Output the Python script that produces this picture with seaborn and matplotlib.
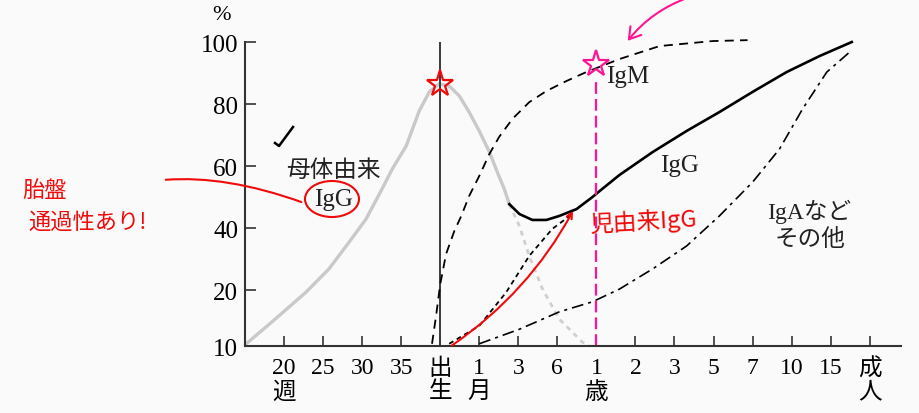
import numpy as np
import matplotlib
matplotlib.use("Agg")
import matplotlib.pyplot as plt
import seaborn as sns

# x axis: positions 0..15, labels (weeks of pregnancy, birth, months, years, adult)
tick_pos = list(range(16))
tick_labels = ["20\n週", "25", "30", "35", "出\n生", "1\n月", "3", "6",
               "1\n歳", "2", "3", "5", "7", "10", "15", "成\n人"]
y_ticks = [10, 20, 40, 60, 80, 100]

# maternal IgG (grey), solid part then the dotted tail
mat_x = [-0.97, -0.31, 0.56, 1.15, 1.67, 2.10, 2.51, 2.77, 3.13, 3.46, 3.72, 3.97,
         4.23, 4.49, 4.74, 5.0, 5.26, 5.46, 5.64, 5.77]
mat_y = [10.4, 14.3, 19.6, 26.8, 35.5, 42.9, 52.6, 59.0, 66.5, 77.7, 83.9, 86.5,
         85.8, 82.6, 77.4, 71.3, 64.5, 58.1, 52.6, 47.7]
mat_tail_x = [5.77, 6.03, 6.28, 6.62, 7.05, 7.64, 7.82]
mat_tail_y = [47.7, 40.6, 31.0, 20.3, 14.8, 10.7, 10]

# total IgG (black solid)
igg_x = [5.77, 6.03, 6.36, 6.72, 7.05, 7.49, 7.90, 8.08, 8.59, 9.44, 10.31, 11.15,
         12.0, 12.87, 13.72, 14.54]
igg_y = [47.7, 44.5, 42.6, 42.6, 43.9, 46.1, 50.0, 51.9, 57.1, 64.5, 71.3, 77.4,
         83.9, 90.3, 95.5, 100]

# child's own IgG (short dashes)
child_x = [4.23, 5.0, 5.69, 6.28, 6.87, 7.38]
child_y = [10.4, 13.6, 19.6, 31.0, 39.7, 44.5]

# IgM (dashed)
igm_x = [3.79, 3.90, 4.0, 4.15, 4.36, 4.54, 4.74, 5.0, 5.26, 5.51, 5.85, 6.28, 6.72,
         7.23, 7.74, 8.59, 9.62, 10.97, 11.87]
igm_y = [10.4, 15.7, 21.9, 31.6, 39.0, 43.9, 50.3, 56.8, 63.9, 69.4, 75.2, 80.6, 84.2,
         87.4, 90.3, 94.5, 98.7, 100.3, 100.6]

# IgA etc. (dash-dot)
iga_x = [5.0, 6.03, 7.05, 7.9, 8.59, 9.44, 10.31, 11.15, 12.0, 12.69, 13.28, 13.9, 14.49]
iga_y = [10.4, 13.0, 16.1, 17.9, 20.3, 26.8, 34.2, 43.9, 54.8, 65.5, 78.4, 90.3, 96.8]

plt.rcParams["lines.scale_dashes"] = False
serif = ["Liberation Serif", "Noto Sans CJK JP"]
hand = ["Noto Sans CJK JP", "DejaVu Sans"]
red = "#f00a0a"
pink = "#ff1493"

# bottom part of the y axis (10-20) is stretched in the original
k = 5.6 / 3.1
def fwd(y):
    y = np.asarray(y, dtype=float)
    return np.where(y < 20, 20 - (20 - y) * k, y)
def inv(v):
    v = np.asarray(v, dtype=float)
    return np.where(v < 20, 20 - (20 - v) / k, v)

fig = plt.figure(figsize=(9.2, 4.14), dpi=100, facecolor="#fafafa")
ax = fig.add_axes([0.2663, 0.1618, 0.713, 0.7343])
ax.set_facecolor("#fafafa")
ax.set_yscale("function", functions=(fwd, inv))

sns.lineplot(x=mat_x, y=mat_y, ax=ax, color="#c9c9c9", linewidth=2.4, clip_on=False)
sns.lineplot(x=mat_tail_x, y=mat_tail_y, ax=ax, color="#cfcfcf", linewidth=2.0, clip_on=False)
ax.lines[-1].set_dashes([3.5, 3.5])

ax.plot([4, 4], [10, 100], color="#3a3a3a", linewidth=1.4)

sns.lineplot(x=igm_x, y=igm_y, ax=ax, color="black", linewidth=1.3, clip_on=False)
ax.lines[-1].set_dashes([6.5, 4.5])
sns.lineplot(x=child_x, y=child_y, ax=ax, color="black", linewidth=1.3, clip_on=False)
ax.lines[-1].set_dashes([3.5, 2.8])
sns.lineplot(x=iga_x, y=iga_y, ax=ax, color="black", linewidth=1.2, clip_on=False)
ax.lines[-1].set_dashes([8.5, 3.6, 2.2, 3.6])
sns.lineplot(x=igg_x, y=igg_y, ax=ax, color="black", linewidth=1.9, clip_on=False)

# handwritten red / pink notes
ax.annotate("", xy=(7.4, 45.5), xytext=(4.3, 10.1),
            arrowprops=dict(arrowstyle="->", color=red, lw=1.5,
                            connectionstyle="arc3,rad=0.12", shrinkA=0, shrinkB=0),
            annotation_clip=False)
ax.plot([4], [86.5], marker="*", markersize=20, markerfacecolor="none",
        markeredgecolor=red, markeredgewidth=1.6, clip_on=False)
ax.plot([8.0, 8.0], [10, 88], color=pink, linewidth=1.6, dashes=[8.5, 3.6])
ax.plot([8.0], [93], marker="*", markersize=20, markerfacecolor="none",
        markeredgecolor=pink, markeredgewidth=1.6, clip_on=False)
fig.patches.append(matplotlib.patches.FancyArrowPatch(
    (690 / 920, 1.005), (626 / 920, 1 - 44 / 414), transform=fig.transFigure,
    arrowstyle="->,head_length=8,head_width=5", color=pink, lw=1.5,
    connectionstyle="arc3,rad=0.15"))

# red wavy line from the note to the circled IgG
fig.patches.append(matplotlib.patches.FancyArrowPatch(
    (163 / 920, 1 - 181 / 414), (304 / 920, 1 - 204 / 414), transform=fig.transFigure,
    arrowstyle="-", color=red, lw=1.5, connectionstyle="angle3,angleA=5,angleB=-20"))
fig.patches.append(matplotlib.patches.Ellipse(
    (332 / 920, 1 - 200 / 414), 54 / 920, 36 / 414, transform=fig.transFigure,
    fill=False, edgecolor=red, lw=1.5))
fig.lines.append(matplotlib.lines.Line2D(
    [275 / 920, 279 / 920, 293 / 920], [1 - 144 / 414, 1 - 147 / 414, 1 - 128 / 414],
    transform=fig.transFigure, color="black", lw=1.8))

fig.text(22 / 920, 1 - 190 / 414, "胎盤", color=red, fontsize=16, family=hand, va="center")
fig.text(28 / 920, 1 - 222 / 414, "通過性あり!", color=red, fontsize=16, family=hand, va="center")
fig.text(643 / 920, 1 - 222 / 414, "児由来IgG", color=red, fontsize=17, family=hand,
         va="center", ha="center", rotation=3)

# labels
ax.text(1.26, 58.6, "母体由来", fontsize=17, family=serif, ha="center", va="center", color="#222222")
ax.text(1.26, 49.4, "IgG", fontsize=18, family=serif, ha="center", va="center", color="#222222")
ax.text(8.79, 89.0, "IgM", fontsize=18, family=serif, ha="center", va="center", color="#222222")
ax.text(10.13, 60.3, "IgG", fontsize=18, family=serif, ha="center", va="center", color="#222222")
ax.text(13.46, 41.3, "IgAなど\nその他", fontsize=17, family=serif, ha="center", va="center",
        color="#222222", linespacing=1.3)
fig.text(222 / 920, 1 - 16 / 414, "%", fontsize=16, family=serif, ha="center", va="center")

ax.set_xlim(-1, 15.8)
ax.set_ylim(10, 100)
ax.set_xticks(tick_pos)
ax.set_xticklabels(tick_labels, family=serif, fontsize=17, linespacing=1.15)
ax.set_yticks(y_ticks)
ax.set_yticklabels([str(v) for v in y_ticks], family=serif, fontsize=18)
ax.yaxis.set_minor_locator(matplotlib.ticker.NullLocator())
ax.tick_params(axis="x", direction="in", length=7, width=1.2, color="#333333", pad=8)
ax.tick_params(axis="y", direction="in", length=8, width=1.2, color="#333333", pad=5)
for s in ["top", "right"]:
    ax.spines[s].set_visible(False)
for s in ["left", "bottom"]:
    ax.spines[s].set_linewidth(1.5)
    ax.spines[s].set_color("#333333")
ax.set_xlabel("")
ax.set_ylabel("")

fig.savefig("out.png", dpi=100, facecolor=fig.get_facecolor())
